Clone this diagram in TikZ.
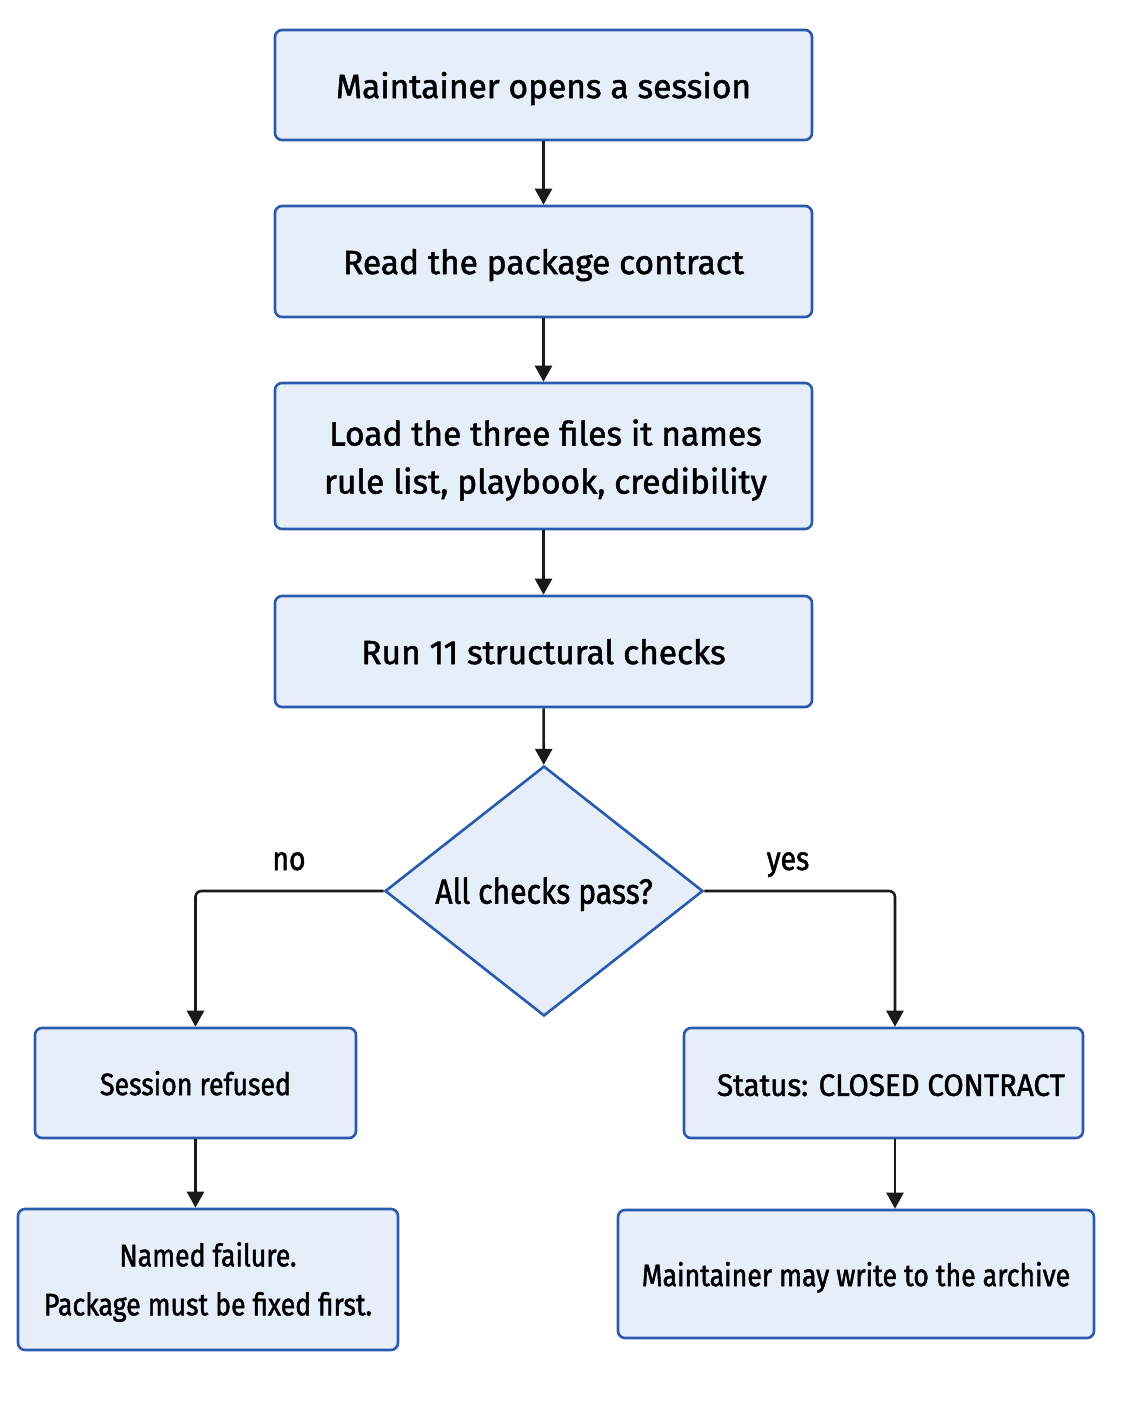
\documentclass[tikz,border=0pt]{standalone}
\usepackage{fontspec}
\setmainfont{Fira Sans}[FakeBold=1.5,BoldFont=*]
\newfontfamily\medfont{Fira Sans}[FakeBold=1.5]
\newfontfamily\condfont{Fira Sans}[FakeStretch=0.86,FakeBold=1.5]
\newfontfamily\capsfont{Fira Sans}[FakeStretch=0.95,FakeBold=1.5]
\usetikzlibrary{shapes.geometric,arrows.meta}
\definecolor{boxfill}{HTML}{E6EEFA}
\definecolor{boxdraw}{HTML}{2A5AAE}
\definecolor{arrowcol}{HTML}{1A1A1A}
\tikzset{
  procbox/.style={draw=boxdraw,fill=boxfill,line width=2.6pt,rounded corners=7pt,
    rectangle,inner sep=0pt,align=center,font=\medfont\fontsize{33.5}{47}\selectfont},
  lowbox/.style={procbox,font=\condfont\fontsize{31}{48}\selectfont},
  decision/.style={draw=boxdraw,fill=boxfill,line width=2.6pt,diamond,inner sep=0pt,
    minimum width=318pt,minimum height=250pt,font=\condfont\fontsize{35}{40}\selectfont},
  flow/.style={draw=arrowcol,line width=2.6pt,-{Triangle[length=16pt,width=17pt]},rounded corners=6pt},
  lbl/.style={font=\condfont\fontsize{33}{40}\selectfont,inner sep=0pt,anchor=base},
  txt/.style={inner sep=0pt,align=center}
}
\begin{document}
\begin{tikzpicture}[x=1pt,y=-1pt]
\useasboundingbox (0,0) rectangle (1122,1402);
\node[procbox,minimum width=537pt,minimum height=110pt,text depth=0pt] (open) at (543.5,85) {Maintainer opens a session};
\node[procbox,minimum width=537pt,minimum height=111pt,text depth=0pt] (read) at (543.5,261.5) {Read the package contract};
\node[procbox,minimum width=537pt,minimum height=146pt] (load) at (543.5,456) {};
\node[txt,font=\medfont\fontsize{33.5}{48}\selectfont] (loadtxt) at (545.5,460) {Load the three files it names\\rule list, playbook, credibility};
\node[procbox,minimum width=537pt,minimum height=111pt,text depth=0pt] (run) at (543.5,651.5) {Run 11 structural checks};
\node[decision,text depth=0pt] (dia) at (544,891) {\raisebox{1pt}{All checks pass?}};
\node[lowbox,minimum width=321pt,minimum height=110pt,text depth=0pt] (refused) at (195.5,1083) {Session refused};
\node[lowbox,minimum width=380pt,minimum height=141pt] (fail) at (208,1279.5) {};
\node[txt,font=\condfont\fontsize{31}{49}\selectfont] (failtxt) at (208,1282) {Named failure.\\Package must be fixed first.};
\node[lowbox,minimum width=399pt,minimum height=110pt] (status) at (883.5,1083) {};
\node[txt,font=\capsfont\fontsize{31}{40}\selectfont,text depth=0pt] (statustxt) at (891,1085) {Status: CLOSED CONTRACT};
\node[lowbox,minimum width=476pt,minimum height=128pt,text depth=0pt] (archive) at (856,1274) {Maintainer may write to the archive};
\node[lbl] (no) at (289,870) {no};
\node[lbl] (yes) at (788,870) {yes};
\draw[flow] (open) -- (read);
\draw[flow] (read) -- (load);
\draw[flow] (load) -- (run);
\draw[flow] (run) -- (dia);
\draw[flow] (dia.west) -| (refused.north);
\draw[flow] (dia.east) -| ([xshift=11.5pt]status.north);
\draw[flow] (refused.south) -- (refused.south |- fail.north);
\draw[flow] ([xshift=11.5pt]status.south) -- ([xshift=11.5pt]status.south |- archive.north);
\end{tikzpicture}
\end{document}
